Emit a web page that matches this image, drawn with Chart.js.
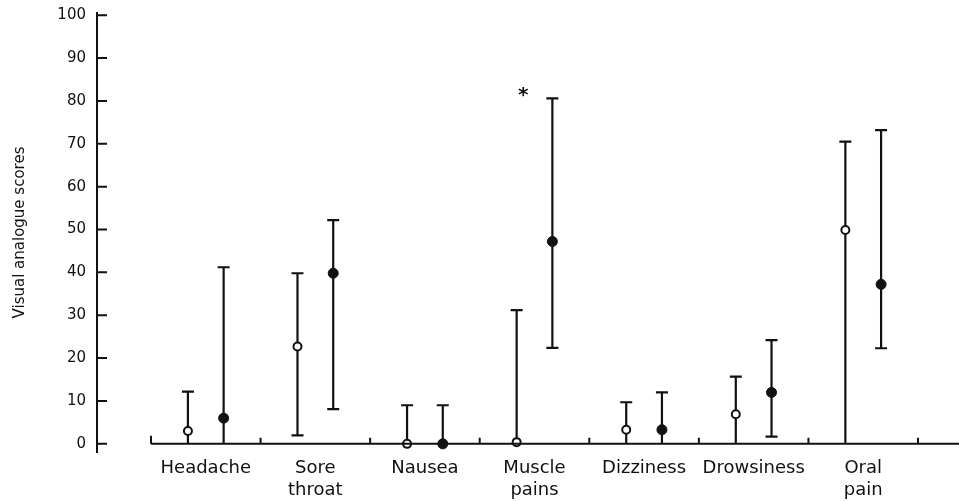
<!DOCTYPE html>
<html>
<head>
<meta charset="utf-8">
<script src="https://cdn.jsdelivr.net/npm/chart.js@4"></script>
<style>
  html, body { margin: 0; padding: 0; background: #fff; }
  #wrap { width: 959px; height: 501px; }
</style>
</head>
<body>
<div id="wrap"><canvas id="myChart" width="959" height="501"></canvas></div>
<script>
// categories, each split into its label lines
const categories = [["Headache"], ["Sore", "throat"], ["Nausea"], ["Muscle", "pains"], ["Dizziness"], ["Drowsiness"], ["Oral", "pain"]];
const yTicks = [0, 10, 20, 30, 40, 50, 60, 70, 80, 90, 100];

// open circles: median and range
const openMedian = [3, 22.7, 0, 0.4, 3.3, 6.9, 49.9];
const openLow = [0, 2, 0, 0, 0, 0, 0];
const openHigh = [12.2, 39.8, 9, 31.2, 9.7, 15.7, 70.5];

// filled circles: median and range
const filledMedian = [6, 39.8, 0, 47.2, 3.3, 12, 37.2];
const filledLow = [0, 8.1, 0, 22.4, 0, 1.7, 22.3];
const filledHigh = [41.2, 52.2, 9, 80.6, 12, 24.2, 73.2];

// significance mark
const starCategory = 3;
const starValue = 82;

const SHIFT = 0.163;
const INK = '#111';

const openPts = openMedian.map((v, i) => ({ x: i + 0.5 - SHIFT, y: v, lo: openLow[i], hi: openHigh[i] }));
const filledPts = filledMedian.map((v, i) => ({ x: i + 0.5 + SHIFT, y: v, lo: filledLow[i], hi: filledHigh[i] }));

const errorBars = {
  id: 'errorBars',
  beforeDatasetsDraw(chart) {
    const { ctx, scales: { x, y } } = chart;
    ctx.save();
    ctx.strokeStyle = INK;
    ctx.lineWidth = 2.2;
    chart.data.datasets.forEach(ds => {
      ds.data.forEach(p => {
        const px = x.getPixelForValue(p.x);
        const top = y.getPixelForValue(p.hi);
        const bot = y.getPixelForValue(p.lo);
        ctx.beginPath();
        ctx.moveTo(px, bot);
        ctx.lineTo(px, top);
        if (p.hi > 0) { ctx.moveTo(px - 6, top); ctx.lineTo(px + 6, top); }
        if (p.lo > 0) { ctx.moveTo(px - 6, bot); ctx.lineTo(px + 6, bot); }
        ctx.stroke();
      });
    });
    ctx.restore();
  }
};

const axesDeco = {
  id: 'axesDeco',
  afterDraw(chart) {
    const { ctx, scales: { x, y }, chartArea } = chart;
    ctx.save();
    ctx.strokeStyle = INK;
    ctx.lineWidth = 2;
    // y ticks pointing inward
    ctx.beginPath();
    yTicks.forEach(t => {
      const py = y.getPixelForValue(t);
      ctx.moveTo(chartArea.left, py);
      ctx.lineTo(chartArea.left + 10, py);
    });
    ctx.stroke();
    // x baseline and category boundary ticks
    const y0 = y.getPixelForValue(0);
    ctx.beginPath();
    ctx.moveTo(x.getPixelForValue(0), y0);
    ctx.lineTo(chartArea.right, y0);
    for (let i = 0; i <= categories.length; i++) {
      const px = x.getPixelForValue(i);
      ctx.moveTo(px, y0);
      ctx.lineTo(px, y0 - (i === 0 ? 8 : 6));
    }
    ctx.stroke();
    // star
    ctx.fillStyle = INK;
    ctx.font = 'bold 20px "DejaVu Sans"';
    ctx.textAlign = 'center';
    ctx.textBaseline = 'middle';
    ctx.fillText('*', x.getPixelForValue(starCategory + 0.5 - SHIFT + 0.06), y.getPixelForValue(starValue) + 3);
    ctx.restore();
  }
};

const ctx = document.getElementById('myChart').getContext('2d');
const myChart = new Chart(ctx, {
  type: 'scatter',
  data: {
    datasets: [{
      label: 'open',
      data: openPts,
      pointRadius: 4,
      pointBorderWidth: 2,
      pointBackgroundColor: '#fff',
      pointBorderColor: INK
    }, {
      label: 'filled',
      data: filledPts,
      pointRadius: 5,
      pointBorderWidth: 1,
      pointBackgroundColor: INK,
      pointBorderColor: INK
    }]
  },
  options: {
    responsive: false,
    animation: false,
    layout: { autoPadding: false, padding: { top: 13, right: 0, left: 0, bottom: 0 } },
    plugins: {
      legend: { display: false },
      tooltip: { enabled: false }
    },
    scales: {
      x: {
        type: 'linear',
        min: -0.4927,
        max: 7.374,
        grid: { display: false, drawTicks: false },
        border: { display: false },
        afterBuildTicks(scale) {
          scale.ticks = categories.map((c, i) => ({ value: i + 0.5 }));
        },
        afterFit(scale) {
          scale.height = 49;
          scale.paddingLeft = 0;
          scale.paddingRight = 0;
        },
        ticks: {
          autoSkip: false,
          maxRotation: 0,
          padding: 5,
          color: INK,
          font: { family: 'DejaVu Sans', size: 18, lineHeight: 1.25 },
          callback: (v, i) => categories[i]
        }
      },
      y: {
        min: -1.9,
        max: 100.5,
        grid: { display: false, drawTicks: false },
        border: { display: true, color: INK, width: 2 },
        afterBuildTicks(scale) {
          scale.ticks = yTicks.map(v => ({ value: v }));
        },
        afterFit(scale) {
          scale.width = 97;
          scale.paddingTop = 0;
          scale.paddingBottom = 0;
        },
        ticks: {
          padding: 11,
          color: INK,
          font: { family: 'DejaVu Sans', size: 15 }
        },
        title: {
          display: true,
          text: 'Visual analogue scores',
          color: INK,
          padding: { top: 11, bottom: 0 },
          font: { family: 'DejaVu Sans', size: 15 }
        }
      }
    }
  },
  plugins: [errorBars, axesDeco]
});
</script>
</body>
</html>
